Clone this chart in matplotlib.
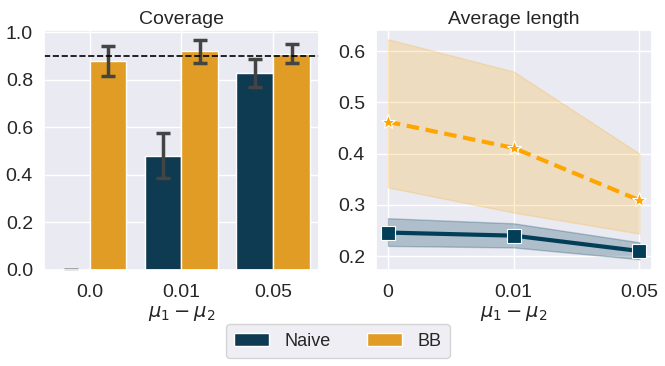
import matplotlib
matplotlib.use("Agg")
import matplotlib.pyplot as plt
import seaborn as sns
import numpy as np
from matplotlib.patches import Patch

sns.set_theme(style="darkgrid")
plt.rcParams['font.family'] = ['Liberation Sans', 'DejaVu Sans']

categories = ["0.0", "0.01", "0.05"]
line_ticks = ["0", "0.01", "0.05"]
methods = ["Naive", "BB"]

# Coverage (bars) with error bars
cov_naive = [0.0, 0.480, 0.830]
cov_naive_lo = [0.0, 0.387, 0.771]
cov_naive_hi = [0.0, 0.577, 0.886]
cov_bb = [0.879, 0.921, 0.910]
cov_bb_lo = [0.816, 0.873, 0.873]
cov_bb_hi = [0.942, 0.968, 0.952]
target = 0.9

# Average length (lines) with bands
len_naive = [0.246, 0.240, 0.210]
len_naive_lo = [0.220, 0.217, 0.194]
len_naive_hi = [0.274, 0.264, 0.227]
len_bb = [0.462, 0.411, 0.309]
len_bb_lo = [0.334, 0.285, 0.244]
len_bb_hi = [0.623, 0.560, 0.400]

c_naive_bar = '#0e3b52'
c_bb_bar = '#e09c24'
c_naive_line = '#023e58'
c_bb_line = 'orange'

fig = plt.figure(figsize=(6.65, 3.66), dpi=100)
ax1 = fig.add_axes([44/665, 1-270/366, 275/665, 240/366])
ax2 = fig.add_axes([376/665, 1-270/366, 276/665, 240/366])

x = np.arange(len(categories))
w = 0.4
for vals, lo, hi, off, col in [(cov_naive, cov_naive_lo, cov_naive_hi, -w/2, c_naive_bar),
                               (cov_bb, cov_bb_lo, cov_bb_hi, w/2, c_bb_bar)]:
    ax1.bar(x + off, vals, width=w, color=col, edgecolor='white', linewidth=1)
    v = np.array(vals); l = np.array(lo); h = np.array(hi)
    ax1.errorbar(x + off, v, yerr=[v - l, h - v],
                 fmt='none', ecolor='#444444', elinewidth=2.5, capsize=5, capthick=2.5)
ax1.axhline(target, color='black', linestyle='--', linewidth=1.2)
ax1.set_xlim(-0.5, 2.5)
ax1.set_ylim(0, 1.01)
ax1.set_xticks(x)
ax1.set_xticklabels(categories)
ax1.set_yticks([0, 0.2, 0.4, 0.6, 0.8, 1.0])
ax1.set_title("Coverage", fontsize=14, pad=4)
ax1.set_xlabel(r"$\mu_1 - \mu_2$", fontsize=14, labelpad=2)
ax1.tick_params(labelsize=14, pad=2)
ax1.tick_params(axis='x', pad=4)

xl = np.arange(len(line_ticks))
ax2.fill_between(xl, len_bb_lo, len_bb_hi, color=c_bb_line, alpha=0.2, linewidth=1)
ax2.fill_between(xl, len_naive_lo, len_naive_hi, color=c_naive_line, alpha=0.25, linewidth=1)
ax2.plot(xl, len_bb, color=c_bb_line, linestyle=(0, (3, 1.6)), linewidth=3,
         marker='*', markersize=11, markeredgecolor='white', markeredgewidth=0.8)
ax2.plot(xl, len_naive, color=c_naive_line, linewidth=3,
         marker='s', markersize=10, markeredgecolor='white', markeredgewidth=0.8)
ax2.set_xlim(-0.095, 2.1)
ax2.set_ylim(0.173, 0.641)
ax2.set_xticks(xl)
ax2.set_xticklabels(line_ticks)
ax2.set_yticks([0.2, 0.3, 0.4, 0.5, 0.6])
ax2.set_title("Average length", fontsize=14, pad=4)
ax2.set_xlabel(r"$\mu_1 - \mu_2$", fontsize=14, labelpad=2)
ax2.tick_params(labelsize=14, pad=2)
ax2.tick_params(axis='x', pad=4)

handles = [Patch(facecolor=c_naive_bar, edgecolor='white'), Patch(facecolor=c_bb_bar, edgecolor='white')]
fig.legend(handles, methods, loc='center', bbox_to_anchor=(338/665, 1-341/366), ncol=2,
           fontsize=13, frameon=True, handlelength=1.95, columnspacing=2.0,
           handletextpad=0.85, borderpad=0.45, borderaxespad=0)

fig.savefig("out.png", dpi=100)
